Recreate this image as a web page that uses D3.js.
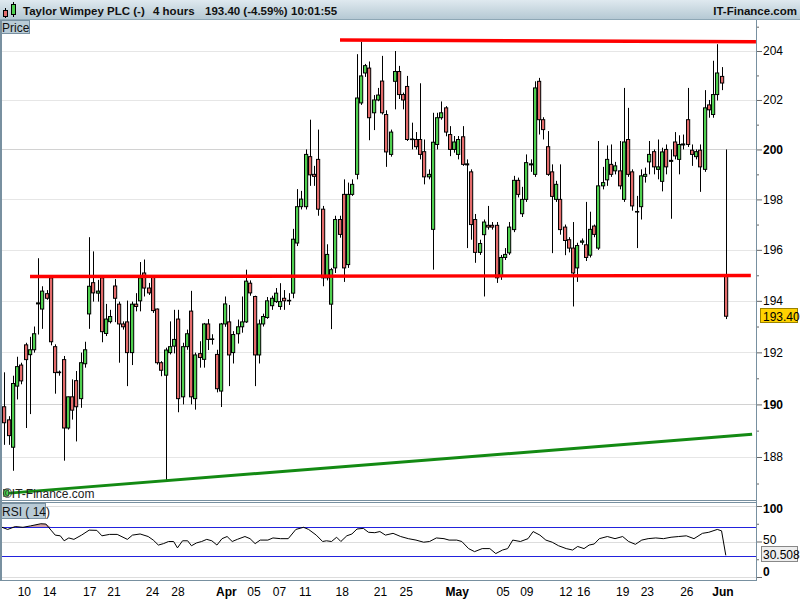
<!DOCTYPE html>
<html><head><meta charset="utf-8">
<script src="https://cdn.jsdelivr.net/npm/d3@7/dist/d3.min.js"></script>
<style>
body{margin:0;background:#fff;}
svg{display:block;font-family:"Liberation Sans",Arial,sans-serif;}
</style></head><body>
<svg id="chart" width="800" height="600"></svg>
<script>
// ---------- data ----------
const openP = [189.91,189.41,188.37,190.70,191.51,192.29,191.91,192.10,193.88,193.68,
194.28,194.90,192.22,191.22,191.72,189.10,190.29,190.91,190.22,191.56,
193.49,194.71,194.30,194.90,192.73,193.19,194.58,193.87,193.10,193.18,
191.99,193.87,194.00,195.09,194.50,194.96,193.68,191.60,191.12,191.99,
192.24,193.29,190.29,192.22,193.60,190.22,191.95,191.73,193.10,192.50,
191.92,190.51,193.10,193.18,191.99,192.72,192.99,193.18,194.69,194.17,
191.90,193.10,193.35,193.81,193.97,193.78,194.10,194.00,194.30,196.27,
197.71,197.71,199.71,199.00,199.60,197.61,194.90,193.87,195.29,197.20,
198.20,195.42,198.20,199.00,201.88,203.10,203.30,201.48,202.00,202.77,
201.41,199.80,202.76,203.16,202.22,202.55,200.40,200.40,200.40,199.91,
198.90,196.81,200.20,201.28,201.68,200.60,200.00,199.80,200.51,199.38,
199.10,197.20,195.90,196.60,196.97,196.97,196.97,194.96,195.70,195.88,
196.80,198.76,197.43,198.00,199.38,199.00,202.76,201.20,200.11,199.10,
198.00,198.00,196.90,196.40,196.07,195.29,196.30,196.20,195.79,196.94,
196.07,198.54,198.78,199.40,199.14,199.14,198.00,200.40,199.10,197.50,
197.71,198.92,199.50,199.91,199.20,198.72,200.00,199.52,200.30,199.60,
200.18,201.20,199.97,199.71,199.97,199.20,201.80,201.41,202.22,202.96,195.00];
const highP = [191.23,189.55,191.10,191.83,191.60,192.37,192.60,193.00,195.67,194.57,
194.42,194.96,192.31,191.30,191.86,190.30,190.96,191.28,191.99,192.41,
196.50,195.94,194.82,194.96,193.88,193.65,194.85,193.97,193.20,194.01,
193.97,194.30,195.52,195.62,194.70,194.98,193.70,191.66,192.18,193.20,
193.65,193.65,192.37,192.88,194.39,191.99,192.43,193.14,193.29,192.70,
192.10,193.14,194.17,193.84,192.82,193.27,194.17,195.22,194.80,194.20,
193.27,193.50,194.15,194.20,194.50,194.69,194.42,194.30,196.83,198.41,
198.34,200.00,201.20,199.34,200.80,197.74,196.22,195.29,197.35,197.35,
198.80,198.67,198.80,203.87,204.38,203.47,203.57,202.20,202.49,203.80,
201.58,200.80,204.00,203.39,202.30,202.98,201.08,200.70,202.68,200.40,
199.20,201.48,201.48,201.94,201.75,200.94,200.54,200.54,200.94,199.60,
199.20,197.42,196.40,197.20,197.74,197.10,197.10,195.80,196.07,197.10,
198.94,198.87,198.50,199.80,199.60,202.76,202.90,201.30,200.74,199.40,
198.74,199.40,197.00,196.50,197.10,196.28,196.45,197.90,197.51,197.00,
200.34,199.30,200.16,200.20,199.50,200.34,202.49,201.68,199.20,198.14,
199.20,199.27,200.34,200.00,200.40,200.07,200.20,200.00,200.70,200.57,
200.60,202.49,200.20,200.00,200.20,202.40,202.00,203.60,204.28,203.34,200.00];
const lowP = [188.46,188.46,187.48,190.19,190.77,189.10,189.63,191.99,192.69,192.91,
194.04,192.27,190.41,191.10,187.86,189.04,189.42,188.59,189.87,191.41,
192.91,193.97,193.97,192.39,192.63,193.12,193.17,191.60,192.88,190.70,
191.51,193.59,193.59,194.17,194.23,193.53,191.53,191.08,187.10,191.92,
191.96,189.70,190.00,192.10,190.00,189.80,191.41,191.41,192.09,192.30,
190.46,189.90,192.99,190.70,191.57,192.34,192.76,193.14,194.20,190.70,
191.57,193.00,193.30,193.65,193.92,193.65,193.65,193.84,194.10,196.15,
197.60,197.60,198.54,198.54,197.35,194.57,194.80,192.90,195.09,196.48,
194.74,195.29,198.14,198.80,201.80,202.94,200.37,200.78,201.95,201.41,
199.30,199.71,201.62,202.04,201.62,200.34,200.00,200.00,199.60,198.60,
198.80,195.22,200.00,201.20,200.53,199.73,199.87,199.60,199.34,196.07,
196.40,195.49,195.80,194.17,196.80,196.80,194.70,194.82,195.60,195.80,
196.70,198.08,197.30,197.90,199.10,198.90,200.60,200.40,198.94,195.87,
197.90,196.60,195.79,195.90,193.78,194.74,196.20,195.56,195.70,196.50,
196.00,198.40,198.54,198.90,199.00,198.40,197.90,198.90,197.55,196.07,
197.20,198.67,199.00,199.00,198.80,198.32,199.00,197.23,199.60,199.00,
200.00,200.10,199.34,199.60,198.30,199.10,201.28,201.28,201.98,202.40,193.29];
const closeP = [189.30,188.81,190.80,191.45,190.90,191.72,192.10,192.72,193.92,194.38,
194.10,192.41,191.22,191.24,189.10,190.29,189.78,189.91,191.60,192.10,
194.57,194.31,194.38,192.80,193.29,193.39,194.10,193.10,192.99,191.99,
193.87,193.78,194.90,194.50,194.31,193.62,191.60,191.31,192.09,192.22,
192.50,190.22,192.22,192.72,190.29,191.90,191.80,193.10,192.50,192.52,
190.60,193.10,193.88,191.90,192.69,192.99,193.18,194.77,194.31,191.90,
193.10,193.39,194.00,194.10,194.30,193.97,194.00,194.02,196.42,197.71,
198.01,199.80,198.98,198.92,197.61,194.90,195.82,195.22,197.20,196.61,
195.29,198.20,198.60,202.08,202.98,203.40,201.28,202.00,202.20,201.48,
199.90,200.70,203.16,202.22,202.00,200.40,200.42,200.11,199.80,198.90,
199.00,200.29,201.28,201.48,200.70,200.00,200.30,200.40,199.40,199.42,
197.00,195.90,196.25,197.10,196.90,196.90,194.90,195.70,195.82,196.90,
198.76,198.20,198.00,199.47,199.42,202.49,201.20,200.80,199.00,198.12,
198.60,196.80,196.37,196.07,195.09,196.17,196.35,195.70,196.81,196.61,
198.54,198.67,199.60,199.00,199.34,198.54,200.30,199.00,197.74,197.52,
198.94,199.00,199.80,199.30,199.30,199.90,199.30,199.56,199.74,200.20,
200.22,200.20,199.80,199.91,199.30,201.68,201.60,202.22,203.10,202.69,193.40];

// RSI(14) readings: candle position and value
const rsiIdx = [-1,0.8,2.6,4.4,6.2,8.6,9.8,11,12,13.2,
14.1,15.2,16.4,18.2,20,21.8,23,24.8,26.6,29,
30.2,32,33.9,35.1,36.3,37.5,38.7,39.9,40.8,42,
43.2,44.1,45.3,46.5,47.7,48.9,50.1,51.3,52.5,53.7,
54.9,56.7,57.9,59.1,60.3,62.1,63.3,65.1,66.9,68.7,
70.5,71.7,73.5,75,75.9,77.1,78.3,79.3,80.7,81.9,
83.1,84.6,85.8,87.3,88.5,89.8,91.6,93.4,95.2,97,
98.8,100.2,101.8,103.6,104.8,106.6,107.8,109.4,110.8,112.6,
114.4,115.8,117.4,118.6,119.8,121.6,123.4,124.6,126.2,127.6,
129.1,130.6,132.4,133.9,135.1,136.6,137.8,139,140.2,142.1,
143.9,145.7,147.1,148.7,150.2,151.7,153.5,155.3,157.1,158.9,
160.7,162.5,164.5,166,168,169,170];
const rsiVal = [71,67,71,70,72,75,74.6,66,59,58,
51,55,53,59,66,65.7,58,60,60,53,
59,60.6,57,52,45,47,50,50,41,51,
51,44,48,50,53,51,45,54,57,50,
53,57,54,47,52,52,55,54,54,67,
70,67,59,50,51,50,56,50,58,60.6,
67.6,68.5,63,62.4,64,59,61.5,57,54,52,
49,50,55,54,52,52,50,40,35.7,40,
40,33,38,40,52,50,54,64,59,52,
49,44,40,38,43,40,45,46.5,54,57,
54,57,50,46,52,54,55,54,56,57,
58,54,61.5,63,67,65,30.508];

// trend lines (candle position, price)
const topLineIdx = [79.1, 177.1], topLinePrice = [204.45, 204.38];
const midLineIdx = [6.06, 175.9], midLinePrice = [194.95, 194.99];
const upLineIdx = [-0.3, 176.2], upLinePrice = [186.62, 188.86];

// axis ticks
const xTickIdx = [4.6,10.6,20,25.7,34.8,40.8,52.2,58.7,64.7,70.8,79.5,88.5,94.6,106.6,117.4,123,132.2,136.4,145.6,151.4,160.7,169.2];
const xTickLabels = ['10','14','17','21','24','28','Apr','05','07','11','18','21','25','May','05','09','12','16','19','23','26','Jun'];
const yTickValues = [188,190,192,194,196,198,200,202,204];
const yMinorValues = [187,189,191,193,195,197,199,201,203,205];
const rsiTickValues = [0,50,100];
const rsiMinorValues = [25,75];
const rsiBands = [70,30];
const lastPrice = 193.40, lastRsi = 30.508;
const titleParts = ['Taylor Wimpey PLC (-)','4 hours','193.40 (-4.59%)','10:01:55'];

// ---------- layout ----------
const W = 800, H = 600;
const axisX = 756, priceTop = 20, priceBottom = 500, rsiTop = 502, rsiBottom = 580;
const svg = d3.select('#chart');
const defs = svg.append('defs');
const g1 = defs.append('linearGradient').attr('id','hdr').attr('x1',0).attr('y1',0).attr('x2',0).attr('y2',1);
g1.append('stop').attr('offset','0%').attr('stop-color','#dfe9ef');
g1.append('stop').attr('offset','100%').attr('stop-color','#b3c7d2');
defs.append('clipPath').attr('id','cp').append('rect')
  .attr('x',2).attr('y',priceTop).attr('width',axisX-2).attr('height',priceBottom-priceTop);
defs.append('clipPath').attr('id','cr').append('rect')
  .attr('x',2).attr('y',rsiTop).attr('width',axisX-2).attr('height',rsiBottom-rsiTop);

const x = d3.scaleLinear().domain([0,170]).range([4.3,725.8]);
const y = d3.scaleLog().domain([204,188]).range([51,457]);
const yR = d3.scaleLinear().domain([0,100]).range([577,506]);
const snap = v => Math.round(v) + 0.5;

svg.append('rect').attr('width',W).attr('height',H).attr('fill','#fff');

// ---------- header ----------
svg.append('rect').attr('x',0).attr('y',0).attr('width',W).attr('height',20).attr('fill','url(#hdr)');
svg.append('line').attr('x1',0).attr('x2',W).attr('y1',19.5).attr('y2',19.5).attr('stroke','#8ea7b5');
svg.append('line').attr('x1',5.5).attr('x2',5.5).attr('y1',8).attr('y2',18).attr('stroke','#000');
svg.append('rect').attr('x',3.5).attr('y',10.5).attr('width',4).attr('height',6).attr('fill','#e36b6b').attr('stroke','#000');
svg.append('line').attr('x1',13.5).attr('x2',13.5).attr('y1',2).attr('y2',17).attr('stroke','#000');
svg.append('rect').attr('x',11.5).attr('y',4.5).attr('width',4).attr('height',10).attr('fill','#4fd04f').attr('stroke','#000');
const titleX = [23, 153, 205, 291];
svg.selectAll('text.title').data(titleParts).enter().append('text').attr('class','title')
  .attr('x',(d,i)=>titleX[i]).attr('y',15).attr('font-size','11.5px').attr('font-weight','bold')
  .attr('fill','#111').text(d=>d);
svg.append('text').attr('x',797).attr('y',15).attr('text-anchor','end').attr('font-size','11.5px')
  .attr('font-weight','bold').attr('fill','#111').text('IT-Finance.com');

// ---------- price panel ----------
const gridG = svg.append('g');
gridG.selectAll('line').data(yTickValues).enter().append('line')
  .attr('x1',2).attr('x2',axisX).attr('y1',d=>snap(y(d))).attr('y2',d=>snap(y(d)))
  .attr('stroke',d=>d%10===0?'#d2d2d2':'#e6e6e6');

const plot = svg.append('g').attr('clip-path','url(#cp)');
const idx = d3.range(openP.length);
plot.selectAll('line.wick').data(idx).enter().append('line').attr('class','wick')
  .attr('x1',i=>Math.round(x(i)-2)+2.5).attr('x2',i=>Math.round(x(i)-2)+2.5)
  .attr('y1',i=>y(highP[i])).attr('y2',i=>y(lowP[i]))
  .attr('stroke','#000').attr('stroke-width',1);
plot.selectAll('rect.body').data(idx).enter().append('rect').attr('class','body')
  .attr('x',i=>Math.round(x(i)-2)+0.5)
  .attr('y',i=>Math.min(y(openP[i]),y(closeP[i])))
  .attr('width',3.2)
  .attr('height',i=>Math.max(0.6,Math.abs(y(openP[i])-y(closeP[i]))))
  .attr('fill',i=>closeP[i]>=openP[i]?'#4fd04f':'#e36b6b')
  .attr('stroke','#000').attr('stroke-width',1);

const tl = d3.line().x(d=>x(d[0])).y(d=>y(d[1]));
plot.append('path').datum(d3.zip(upLineIdx,upLinePrice)).attr('d',tl)
  .attr('stroke','#138a13').attr('stroke-width',3).attr('fill','none');
plot.append('path').datum(d3.zip(midLineIdx,midLinePrice)).attr('d',tl)
  .attr('stroke','#ff0000').attr('stroke-width',3.4).attr('fill','none');
plot.append('path').datum(d3.zip(topLineIdx,topLinePrice)).attr('d',tl)
  .attr('stroke','#ff0000').attr('stroke-width',3.4).attr('fill','none');

// watermark
svg.append('rect').attr('x',3.5).attr('y',489.5).attr('width',5).attr('height',7).attr('fill','#4fd04f').attr('stroke','#333').attr('stroke-width',0.6);
svg.append('text').attr('x',3).attr('y',498).attr('font-size','12px').attr('fill','#222').text('\u00A9IT-Finance.com');

// Price label box
svg.append('rect').attr('x',0.5).attr('y',20.5).attr('width',29).attr('height',13)
  .attr('fill','#b9cbd6').attr('stroke','#7890a0');
svg.append('text').attr('x',2).attr('y',31.5).attr('font-size','12px').attr('fill','#111').text('Price');

// price axis
const yAxis = svg.append('g').attr('transform',`translate(${axisX},0)`)
  .call(d3.axisRight(y).tickValues(yTickValues).tickSize(6).tickPadding(1).tickFormat(d3.format('d')));
yAxis.select('.domain').remove();
yAxis.selectAll('line').attr('stroke','#666');
yAxis.selectAll('text').attr('font-size','12px').attr('fill','#000')
  .attr('font-family','"Liberation Sans",Arial,sans-serif')
  .attr('font-weight',d=>d%10===0?'bold':'normal');
const yMinor = svg.append('g').attr('transform',`translate(${axisX},0)`)
  .call(d3.axisRight(y).tickValues(yMinorValues).tickSize(3).tickFormat(''));
yMinor.select('.domain').remove();
yMinor.selectAll('line').attr('stroke','#666');

// last price box
const ly = y(lastPrice);
svg.append('rect').attr('x',760.5).attr('y',Math.round(ly)-7.5).attr('width',37).attr('height',14)
  .attr('fill','#ffd200').attr('stroke','#9a8200');
svg.append('text').attr('x',763).attr('y',Math.round(ly)+4.5).attr('font-size','12px').attr('fill','#000')
  .text(lastPrice.toFixed(2));

// ---------- RSI panel ----------
const rg = svg.append('g');
rg.selectAll('line.rg').data(rsiTickValues).enter().append('line')
  .attr('x1',2).attr('x2',axisX).attr('y1',d=>snap(yR(d))).attr('y2',d=>snap(yR(d))).attr('stroke','#dddddd');
const rplot = svg.append('g').attr('clip-path','url(#cr)');
const rsiPts = d3.zip(rsiIdx, rsiVal);
rplot.append('path').datum(rsiPts)
  .attr('d',d3.area().x(d=>x(d[0])).y0(yR(70)).y1(d=>yR(Math.max(70,d[1]))))
  .attr('fill','#c99393').attr('opacity',0.85);
rplot.append('path').datum(rsiPts)
  .attr('d',d3.area().x(d=>x(d[0])).y0(yR(30)).y1(d=>yR(Math.min(30,d[1]))))
  .attr('fill','#c99393').attr('opacity',0.85);
rplot.selectAll('line.band').data(rsiBands).enter().append('line')
  .attr('x1',0).attr('x2',axisX).attr('y1',d=>snap(yR(d))).attr('y2',d=>snap(yR(d)))
  .attr('stroke','#2222dd').attr('stroke-width',1);
rplot.append('path').datum(rsiPts)
  .attr('d',d3.line().x(d=>x(d[0])).y(d=>yR(d[1])))
  .attr('fill','none').attr('stroke','#000').attr('stroke-width',1);

svg.append('rect').attr('x',0.5).attr('y',503.5).attr('width',45).attr('height',15)
  .attr('fill','#b9cbd6').attr('stroke','#7890a0');
svg.append('text').attr('x',2).attr('y',515.5).attr('font-size','12px').attr('fill','#111').text('RSI ( 14)');

const rAxis = svg.append('g').attr('transform',`translate(${axisX},0)`)
  .call(d3.axisRight(yR).tickValues(rsiTickValues).tickSize(6).tickPadding(1).tickFormat(d3.format('d')));
rAxis.select('.domain').remove();
rAxis.selectAll('line').attr('stroke','#666');
rAxis.selectAll('text').attr('font-size','12px').attr('fill','#000')
  .attr('font-family','"Liberation Sans",Arial,sans-serif')
  .attr('font-weight',d=>d===50?'normal':'bold')
  .attr('dy',d=>d===0?'-0.1em':(d===100?'0.55em':'0.2em'));
const rMinor = svg.append('g').attr('transform',`translate(${axisX},0)`)
  .call(d3.axisRight(yR).tickValues(rsiMinorValues).tickSize(3).tickFormat(''));
rMinor.select('.domain').remove();
rMinor.selectAll('line').attr('stroke','#666');

const ry = yR(lastRsi);
svg.append('rect').attr('x',761.5).attr('y',Math.round(ry)-8.5).attr('width',36).attr('height',15)
  .attr('fill','#eeeeee').attr('stroke','#888');
svg.append('text').attr('x',763).attr('y',Math.round(ry)+3.5).attr('font-size','12px').attr('fill','#000')
  .text(lastRsi.toFixed(3));

// ---------- frame lines ----------
const frame = '#7890a0';
svg.append('line').attr('x1',1).attr('x2',1).attr('y1',20).attr('y2',rsiBottom).attr('stroke',frame).attr('stroke-width',2);
svg.append('line').attr('x1',axisX+0.5).attr('x2',axisX+0.5).attr('y1',20).attr('y2',rsiBottom+1).attr('stroke',frame);
svg.append('line').attr('x1',0).attr('x2',axisX).attr('y1',priceBottom+0.5).attr('y2',priceBottom+0.5).attr('stroke',frame);
svg.append('line').attr('x1',0).attr('x2',axisX).attr('y1',rsiTop+0.5).attr('y2',rsiTop+0.5).attr('stroke',frame);
svg.append('line').attr('x1',0).attr('x2',axisX).attr('y1',rsiBottom+0.5).attr('y2',rsiBottom+0.5).attr('stroke',frame);

// ---------- x axis ----------
const xAxis = svg.append('g').attr('transform',`translate(0,${rsiBottom})`)
  .call(d3.axisBottom(x).tickValues(xTickIdx).tickSize(0).tickPadding(7)
    .tickFormat((d,i)=>xTickLabels[i]));
xAxis.select('.domain').remove();
xAxis.selectAll('text').attr('font-size','12px').attr('fill','#000')
  .attr('font-family','"Liberation Sans",Arial,sans-serif')
  .attr('font-weight',(d,i)=>/^[A-Z]/.test(xTickLabels[i])?'bold':'normal');
</script>
</body></html>
